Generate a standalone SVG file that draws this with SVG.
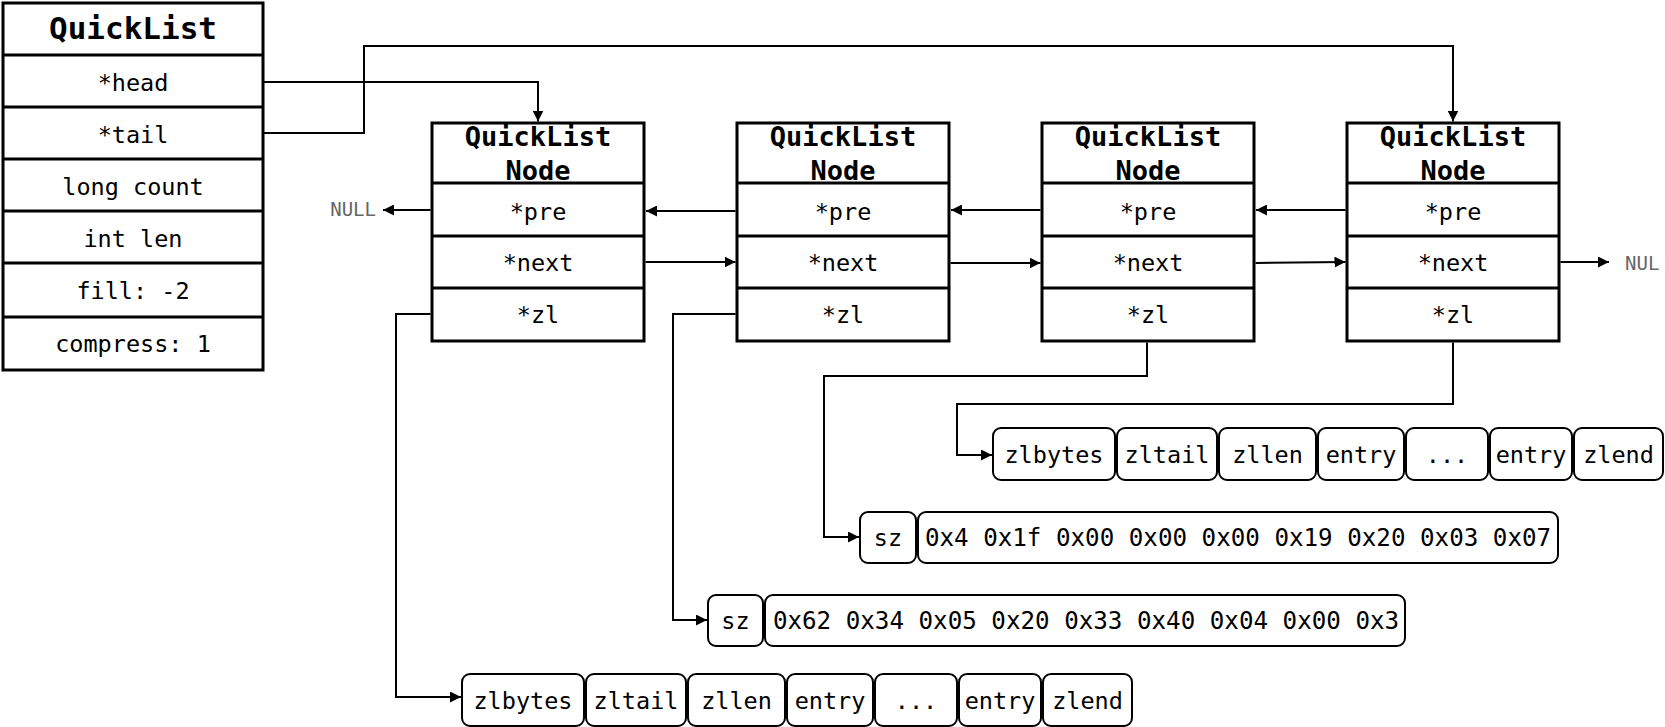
<svg xmlns="http://www.w3.org/2000/svg" width="1665" height="727" viewBox="0 0 1665 727">
<style>
.box{fill:#fff;stroke:#000;stroke-width:3}
.sep{stroke:#000;stroke-width:3}
.t{font-family:"DejaVu Sans Mono","Liberation Mono",monospace;font-size:23.5px;fill:#000;text-anchor:middle;dominant-baseline:central}
.title{font-weight:bold;font-size:31px}
.ntitle{font-weight:bold;font-size:27px}
.hex{font-size:24.2px}
.cell{fill:#fff;stroke:#000;stroke-width:2}
.conn{fill:none;stroke:#000;stroke-width:2}
.null{fill:#666;font-size:19px}
</style>
<defs>
<marker id="arr" viewBox="0 0 10 10" refX="10" refY="5" markerWidth="11" markerHeight="11" markerUnits="userSpaceOnUse" orient="auto">
<path d="M0,0 L10,5 L0,10 z" fill="#000"/>
</marker>
</defs>
<rect width="1665" height="727" fill="#fff"/>

<g id="quicklist">
<rect class="box" x="3" y="3" width="260" height="367"/>
<line class="sep" x1="3" y1="55" x2="263" y2="55"/>
<line class="sep" x1="3" y1="107" x2="263" y2="107"/>
<line class="sep" x1="3" y1="159" x2="263" y2="159"/>
<line class="sep" x1="3" y1="211" x2="263" y2="211"/>
<line class="sep" x1="3" y1="263" x2="263" y2="263"/>
<line class="sep" x1="3" y1="317" x2="263" y2="317"/>
<text class="t title" x="133" y="28">QuickList</text>
<text class="t" x="133" y="83">*head</text>
<text class="t" x="133" y="135">*tail</text>
<text class="t" x="133" y="187">long count</text>
<text class="t" x="133" y="239">int len</text>
<text class="t" x="133" y="291">fill: -2</text>
<text class="t" x="133" y="344">compress: 1</text>
</g>

<g id="node1">
<rect class="box" x="432" y="123" width="212" height="218"/>
<line class="sep" x1="432" y1="183" x2="644" y2="183"/>
<line class="sep" x1="432" y1="236" x2="644" y2="236"/>
<line class="sep" x1="432" y1="288" x2="644" y2="288"/>
<text class="t ntitle" x="538" y="136">QuickList</text>
<text class="t ntitle" x="538" y="170">Node</text>
<text class="t" x="538" y="212">*pre</text>
<text class="t" x="538" y="263">*next</text>
<text class="t" x="538" y="315">*zl</text>
</g>

<g id="node2">
<rect class="box" x="737" y="123" width="212" height="218"/>
<line class="sep" x1="737" y1="183" x2="949" y2="183"/>
<line class="sep" x1="737" y1="236" x2="949" y2="236"/>
<line class="sep" x1="737" y1="288" x2="949" y2="288"/>
<text class="t ntitle" x="843" y="136">QuickList</text>
<text class="t ntitle" x="843" y="170">Node</text>
<text class="t" x="843" y="212">*pre</text>
<text class="t" x="843" y="263">*next</text>
<text class="t" x="843" y="315">*zl</text>
</g>

<g id="node3">
<rect class="box" x="1042" y="123" width="212" height="218"/>
<line class="sep" x1="1042" y1="183" x2="1254" y2="183"/>
<line class="sep" x1="1042" y1="236" x2="1254" y2="236"/>
<line class="sep" x1="1042" y1="288" x2="1254" y2="288"/>
<text class="t ntitle" x="1148" y="136">QuickList</text>
<text class="t ntitle" x="1148" y="170">Node</text>
<text class="t" x="1148" y="212">*pre</text>
<text class="t" x="1148" y="263">*next</text>
<text class="t" x="1148" y="315">*zl</text>
</g>

<g id="node4">
<rect class="box" x="1347" y="123" width="212" height="218"/>
<line class="sep" x1="1347" y1="183" x2="1559" y2="183"/>
<line class="sep" x1="1347" y1="236" x2="1559" y2="236"/>
<line class="sep" x1="1347" y1="288" x2="1559" y2="288"/>
<text class="t ntitle" x="1453" y="136">QuickList</text>
<text class="t ntitle" x="1453" y="170">Node</text>
<text class="t" x="1453" y="212">*pre</text>
<text class="t" x="1453" y="263">*next</text>
<text class="t" x="1453" y="315">*zl</text>
</g>

<g id="null-left"><text class="t null" x="376" y="209" style="text-anchor:end">NULL</text></g>
<g id="null-right"><text class="t null" x="1625" y="263" style="text-anchor:start">NUL</text></g>

<g id="ziplist-upper">
<rect class="cell" x="993" y="428" width="122" height="52" rx="8"/>
<rect class="cell" x="1117" y="428" width="100" height="52" rx="8"/>
<rect class="cell" x="1219" y="428" width="97" height="52" rx="8"/>
<rect class="cell" x="1318" y="428" width="86" height="52" rx="8"/>
<rect class="cell" x="1406" y="428" width="82" height="52" rx="8"/>
<rect class="cell" x="1490" y="428" width="82" height="52" rx="8"/>
<rect class="cell" x="1574" y="428" width="89" height="52" rx="8"/>
<text class="t" x="1054" y="455">zlbytes</text>
<text class="t" x="1167" y="455">zltail</text>
<text class="t" x="1267.5" y="455">zllen</text>
<text class="t" x="1361" y="455">entry</text>
<text class="t" x="1447" y="455">...</text>
<text class="t" x="1531" y="455">entry</text>
<text class="t" x="1618.5" y="455">zlend</text>
</g>

<g id="lzf-upper">
<rect class="cell" x="860" y="512" width="56" height="51" rx="8"/>
<rect class="cell" x="918" y="512" width="640" height="51" rx="8"/>
<text class="t" x="888" y="538">sz</text>
<text class="t hex" x="1238" y="538">0x4 0x1f 0x00 0x00 0x00 0x19 0x20 0x03 0x07</text>
</g>

<g id="lzf-lower">
<rect class="cell" x="708" y="595" width="55" height="51" rx="8"/>
<rect class="cell" x="765" y="595" width="640" height="51" rx="8"/>
<text class="t" x="735.5" y="621">sz</text>
<text class="t hex" x="1086" y="621">0x62 0x34 0x05 0x20 0x33 0x40 0x04 0x00 0x3</text>
</g>

<g id="ziplist-lower">
<rect class="cell" x="462" y="674" width="122" height="52" rx="8"/>
<rect class="cell" x="586" y="674" width="100" height="52" rx="8"/>
<rect class="cell" x="688" y="674" width="97" height="52" rx="8"/>
<rect class="cell" x="787" y="674" width="86" height="52" rx="8"/>
<rect class="cell" x="875" y="674" width="82" height="52" rx="8"/>
<rect class="cell" x="959" y="674" width="82" height="52" rx="8"/>
<rect class="cell" x="1043" y="674" width="89" height="52" rx="8"/>
<text class="t" x="523" y="701">zlbytes</text>
<text class="t" x="636" y="701">zltail</text>
<text class="t" x="736.5" y="701">zllen</text>
<text class="t" x="830" y="701">entry</text>
<text class="t" x="916" y="701">...</text>
<text class="t" x="1000" y="701">entry</text>
<text class="t" x="1087.5" y="701">zlend</text>
</g>

<g id="connectors">
<path class="conn" d="M263,82 H538 V121.5" marker-end="url(#arr)"/>
<path class="conn" d="M263,133 H364 V46 H1453 V121.5" marker-end="url(#arr)"/>
<path class="conn" d="M430.5,210 H383" marker-end="url(#arr)"/>
<path class="conn" d="M735.5,211 H646" marker-end="url(#arr)"/>
<path class="conn" d="M1040.5,210 H951" marker-end="url(#arr)"/>
<path class="conn" d="M1345.5,210 H1256" marker-end="url(#arr)"/>
<path class="conn" d="M645.5,262 L735.5,262" marker-end="url(#arr)"/>
<path class="conn" d="M950.5,263 L1040.5,263" marker-end="url(#arr)"/>
<path class="conn" d="M1255.5,263 L1345.5,262" marker-end="url(#arr)"/>
<path class="conn" d="M1560.5,262 H1609" marker-end="url(#arr)"/>
<path class="conn" d="M430.5,314 H396 V697 H461" marker-end="url(#arr)"/>
<path class="conn" d="M735.5,314 H673 V620 H707" marker-end="url(#arr)"/>
<path class="conn" d="M1147,342.5 V376 H824 V537 H859" marker-end="url(#arr)"/>
<path class="conn" d="M1453,342.5 V404 H957 V455 H992" marker-end="url(#arr)"/>
</g>
</svg>
